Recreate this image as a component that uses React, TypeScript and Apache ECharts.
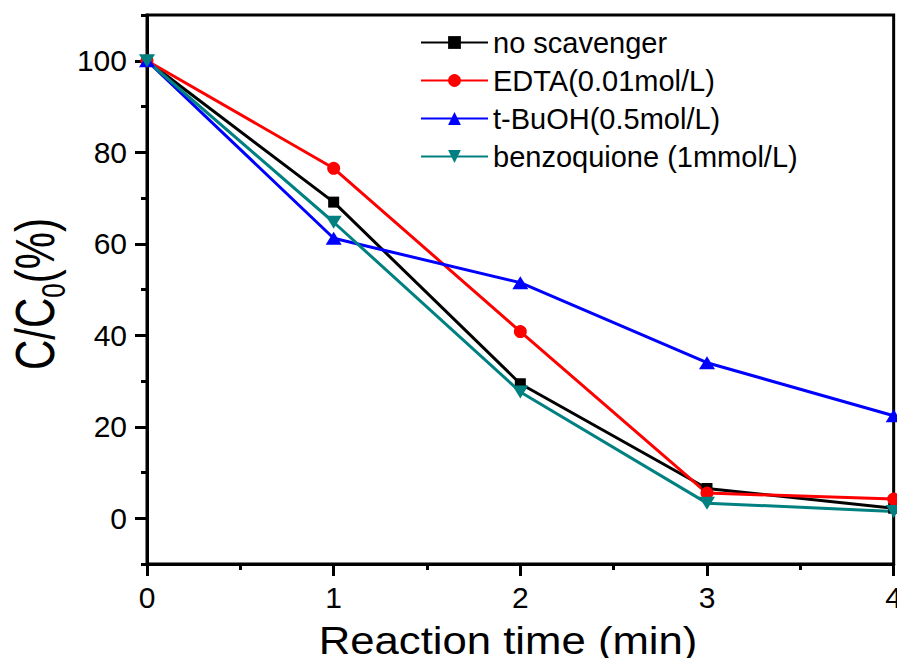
import React, { useEffect, useRef } from "react";
import * as echarts from "echarts";

const times = [0, 1, 2, 3, 4];
const seriesNames = ["no scavenger", "EDTA(0.01mol/L)", "t-BuOH(0.5mol/L)", "benzoquione (1mmol/L)"];
const noScavenger = [100, 69.1, 29.4, 6.5, 2.2];
const edta = [100, 76.5, 40.8, 5.5, 4.2];
const tBuOH = [100, 61.2, 51.5, 34.0, 22.4];
const benzoquinone = [100, 64.7, 27.6, 3.3, 1.5];
const yLabelValues = [0, 20, 40, 60, 80, 100];
const xLabelValues = [0, 1, 2, 3, 4];

const FONT = "'Liberation Sans', Arial, sans-serif";

export default function App() {
  const ref = useRef<HTMLDivElement>(null);
  useEffect(() => {
    if (!ref.current) return;
    const chart = echarts.init(ref.current, undefined, { renderer: "svg" });
    const pair = (arr: number[]) => times.map((t, i) => [t, arr[i]]);
    const mk = (name: string, data: number[], color: string, symbol: string, size: any, rotate = 0) => ({
      name,
      type: "line",
      data: pair(data),
      symbol,
      symbolSize: size,
      symbolRotate: rotate,
      showAllSymbol: true,
      clip: false,
      lineStyle: { color, width: 3 },
      itemStyle: { color },
      z: 3,
    });
    chart.setOption({
      animation: false,
      backgroundColor: "#fff",
      grid: {
        left: 147,
        right: 11,
        top: 15,
        bottom: 102,
        show: true,
        borderColor: "#000",
        borderWidth: 3,
      },
      legend: {
        orient: "vertical",
        left: 415,
        top: 23,
        itemWidth: 67,
        itemHeight: 16,
        itemGap: 9,
        data: seriesNames,
        textStyle: { fontFamily: FONT, fontSize: 29, color: "#000", lineHeight: 28 },
      },
      xAxis: [
        {
          type: "value",
          min: 0,
          max: 4,
          interval: 1,
          axisLine: { show: true, onZero: false, lineStyle: { color: "#000", width: 3 } },
          axisTick: { show: true, length: 12, lineStyle: { color: "#000", width: 3 } },
          minorTick: { show: true, splitNumber: 2, length: 6, lineStyle: { color: "#000", width: 3 } },
          axisLabel: {
            fontFamily: FONT,
            fontSize: 30,
            color: "#000",
            margin: 18,
            formatter: (v: number) => (xLabelValues.includes(v) ? String(v) : ""),
          },
          splitLine: { show: false },
        },
      ],
      yAxis: [
        {
          type: "value",
          min: -10,
          max: 110,
          interval: 10,
          axisLine: { show: true, onZero: false, lineStyle: { color: "#000", width: 3 } },
          axisTick: { show: true, length: 6, lineStyle: { color: "#000", width: 3 } },
          axisLabel: {
            fontFamily: FONT,
            fontSize: 30,
            color: "#000",
            margin: 20,
            showMinLabel: true,
            showMaxLabel: true,
            formatter: (v: number) => (yLabelValues.includes(v) ? String(v) : ""),
          },
          splitLine: { show: false },
        },
        {
          type: "value",
          position: "left",
          min: -10,
          max: 110,
          interval: 10,
          axisLine: { show: false, onZero: false },
          axisTick: { show: true, length: 12, customValues: yLabelValues, lineStyle: { color: "#000", width: 3 } },
          axisLabel: { show: false },
          splitLine: { show: false },
        },
      ],
      graphic: [
        {
          type: "text",
          x: 508,
          y: 641,
          scaleX: 1.15,
          style: {
            text: "Reaction time (min)",
            font: `38px ${FONT}`,
            fill: "#000",
            textAlign: "center",
            textVerticalAlign: "middle",
          },
        },
        {
          type: "text",
          x: 35,
          y: 294,
          rotation: Math.PI / 2,
          scaleY: 1.3,
          style: {
            text: "{a|C/C}{b|0}{a|(%)}",
            fill: "#000",
            textAlign: "center",
            textVerticalAlign: "middle",
            rich: {
              a: { fontFamily: FONT, fontSize: 42, fill: "#000", verticalAlign: "bottom" },
              b: { fontFamily: FONT, fontSize: 26, fill: "#000", verticalAlign: "bottom", padding: [0, 0, -6, 0] },
            },
          },
        },
      ],
      series: [
        mk(seriesNames[0], noScavenger, "#000000", "rect", 11),
        mk(seriesNames[1], edta, "#ff0000", "circle", 13),
        mk(seriesNames[2], tBuOH, "#0000ff", "triangle", [16, 13]),
        mk(seriesNames[3], benzoquinone, "#008080", "triangle", [16, 13], 180),
      ],
    });
    return () => chart.dispose();
  }, []);
  return <div ref={ref} style={{ width: 905, height: 666, margin: -8 }} />;
}
